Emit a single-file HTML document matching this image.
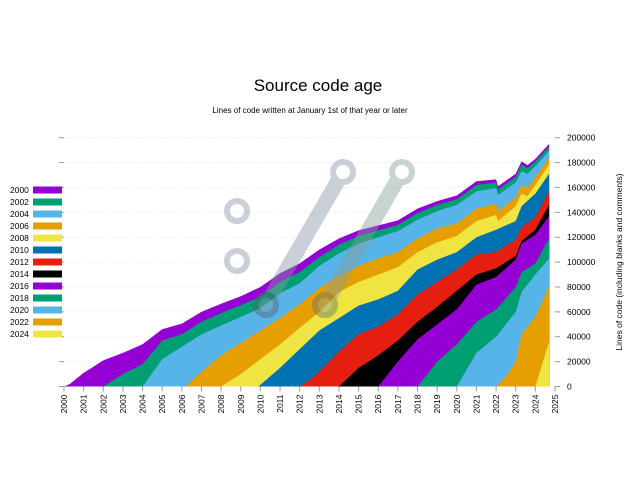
<!DOCTYPE html>
<html><head><meta charset="utf-8"><style>
html,body{margin:0;padding:0;background:#fff;}
svg{display:block;font-family:"Liberation Sans",sans-serif;}
</style></head><body>
<svg id="chart" width="640" height="493" viewBox="0 0 640 493" xmlns="http://www.w3.org/2000/svg">
<text x="318" y="91" font-size="17" text-anchor="middle" fill="#000">Source code age</text>
<text x="310" y="113" font-size="8" text-anchor="middle" fill="#000">Lines of code written at January 1st of that year or later</text>
<g id="grid"></g>
<g id="bands"></g>
<g id="watermark" opacity="0.45">
<line x1="266" y1="305" x2="343" y2="172" stroke="#8899aa" stroke-width="15" stroke-linecap="round"/>
<line x1="325" y1="305" x2="402" y2="172" stroke="#88a099" stroke-width="15" stroke-linecap="round"/>
<circle cx="237" cy="211" r="10" fill="none" stroke="#8899aa" stroke-width="6"/>
<circle cx="237" cy="261" r="10" fill="none" stroke="#8899aa" stroke-width="6"/>
<circle cx="266" cy="305" r="10" fill="none" stroke="#556677" stroke-width="6"/>
<circle cx="325" cy="305" r="10" fill="none" stroke="#667766" stroke-width="6"/>
<circle cx="343" cy="172" r="10" fill="#fff" stroke="#8899aa" stroke-width="6"/>
<circle cx="402" cy="172" r="10" fill="#fff" stroke="#88a099" stroke-width="6"/>
</g>
<g id="axes"></g>
<g id="legend"></g>
<text transform="translate(622,262) rotate(-90)" font-size="8.5" text-anchor="middle" fill="#000">Lines of code (including blanks and comments)</text>
</svg>
<script>
const cohorts = ["2000","2002","2004","2006","2008","2010","2012","2014","2016","2018","2020","2022","2024"];
const colors = ["#9400d3","#009e73","#56b4e9","#e69f00","#f0e442","#0072b2","#e51e10","#000000","#9400d3","#009e73","#56b4e9","#e69f00","#f0e442"];
const c2000 = [[2000,0],[2000.3,2],[2001,11],[2002,21],[2003,27],[2004,34],[2005,46],[2006,50.5],[2007,60],[2008,66.5],[2009,72.5],[2010,80],[2011,91],[2012,99],[2013,110],[2014,119],[2015,125.5],[2016,129.5],[2017,133.5],[2018,143],[2019,149],[2020,153.5],[2021,165],[2022,166.5],[2022.1,161],[2023,171],[2023.3,181],[2023.6,178],[2024,183],[2024.7,195]];
const c2002 = [[2002,0],[2003,10],[2004,18],[2005,37],[2006,42],[2007,52],[2008,59],[2009,65.5],[2010,72],[2011,84],[2012,92],[2013,104],[2014,114],[2015,121],[2016,125.5],[2017,130],[2018,139.5],[2019,146],[2020,150.5],[2021,162],[2022,164],[2022.1,158.5],[2023,168.5],[2023.3,178.5],[2023.6,175.5],[2024,181],[2024.7,193]];
const c2004 = [[2004,0],[2005,22],[2006,32],[2007,42],[2008,49],[2009,56],[2010,63],[2011,75],[2012,83],[2013,97],[2014,107],[2015,115],[2016,120],[2017,125],[2018,134],[2019,141],[2020,146],[2021,157],[2022,159.5],[2022.1,154],[2023,164],[2023.3,173],[2023.6,171],[2024,177],[2024.7,189.5]];
const c2006 = [[2006.2,0],[2007,12],[2008,25],[2009,35],[2010,45],[2011,55],[2012,66],[2013,79],[2014,89],[2015,97],[2016,103],[2017,108],[2018,119],[2019,127],[2020,131],[2021,143],[2022,147],[2022.1,141],[2023,152],[2023.3,162],[2023.6,160],[2024,168],[2024.7,184]];
const c2008 = [[2008,0],[2009,10],[2010,22],[2011,34],[2012,47],[2013,60],[2014,76],[2015,84],[2016,90],[2017,96],[2018,108],[2019,116],[2020,121],[2021,133],[2022,138],[2022.1,133],[2023,145],[2023.3,155],[2023.6,153],[2024,162],[2024.7,178.5]];
const c2010 = [[2009.9,0],[2011,15],[2012,30],[2013,45],[2014,55],[2015,65],[2016,70],[2017,77],[2018,94],[2019,102],[2020,108],[2021,120],[2022,126],[2023,133],[2023.3,145],[2024,155],[2024.7,171]];
const c2012 = [[2012,0],[2012.6,6],[2013,12],[2014,28],[2015,42],[2016,48],[2017,58],[2018,74],[2019,84],[2020,94],[2021,106],[2022,108],[2023,118],[2023.3,128],[2024,136],[2024.7,157]];
const c2014 = [[2014,0],[2015,15],[2016,25],[2017,37],[2018,52],[2019,64],[2020,77],[2021,90],[2022,95],[2023,105],[2023.3,117],[2024,126],[2024.7,146]];
const c2016 = [[2016,0],[2017,20],[2018,38],[2019,50],[2020,62],[2021,82],[2022,88],[2023,102],[2023.3,115],[2024,122],[2024.7,137]];
const c2018 = [[2018,0],[2019,20],[2020,34],[2021,52],[2022,62],[2023,80],[2023.3,92],[2024,99],[2024.7,119]];
const c2020 = [[2020,0],[2021,27],[2022,40],[2023,60],[2023.3,76],[2024,90],[2024.7,103]];
const c2022 = [[2022,0],[2022.5,8],[2023,20],[2023.3,42],[2024,56],[2024.7,80.5]];
const c2024 = [[2024,0],[2024.7,36]];
const series = [c2000,c2002,c2004,c2006,c2008,c2010,c2012,c2014,c2016,c2018,c2020,c2022,c2024];
const xTicks = [2000,2001,2002,2003,2004,2005,2006,2007,2008,2009,2010,2011,2012,2013,2014,2015,2016,2017,2018,2019,2020,2021,2022,2023,2024,2025];
const yTicks = [0,20000,40000,60000,80000,100000,120000,140000,160000,180000,200000];

const NS="http://www.w3.org/2000/svg";
const X0=64,X1=555,Y0=386.5,Y1=137.7;
function xs(y){return X0+(y-2000)/25*(X1-X0);}
function ys(v){return Y0-v/200000*(Y0-Y1);}
function mk(tag,attrs,parent){const e=document.createElementNS(NS,tag);for(const k in attrs)e.setAttribute(k,attrs[k]);parent.appendChild(e);return e;}

const grid=document.getElementById('grid');
const axes=document.getElementById('axes');
yTicks.forEach(t=>{
  if(t>0){const g=mk('line',{x1:X0,x2:X1,y1:ys(t),y2:ys(t),stroke:'#e4e4e4','stroke-width':0.6,'stroke-dasharray':'1.5,1.5'},grid);
  
  }
  const lt=mk('line',{x1:X0-5,x2:X0,y1:ys(t),y2:ys(t),stroke:'#999','stroke-width':1},axes);
  
  
  const rt=mk('line',{x1:X1,x2:X1+5,y1:ys(t),y2:ys(t),stroke:'#999','stroke-width':1},axes);
  
  
  const tx=mk('text',{x:X1+12,y:ys(t)+3,'font-size':8.5,fill:'#000'},axes);
  tx.textContent=t;
  
  
});
mk('line',{x1:X1,x2:X1,y1:Y0,y2:Y0+1,stroke:'#999'},axes);
xTicks.forEach(t=>{
  const tk=mk('line',{x1:xs(t),x2:xs(t),y1:Y0,y2:Y0+5,stroke:'#999','stroke-width':1},axes);
  
  
  const tx=mk('text',{transform:`translate(${xs(t)+3},${Y0+8}) rotate(-90)`,'font-size':8.5,'text-anchor':'end',fill:'#000'},axes);
  tx.textContent=t;
  
  
});

const bands=document.getElementById('bands');
series.forEach((s,i)=>{
  let d='M'+xs(s[0][0])+','+Y0;
  s.forEach(p=>{d+=' L'+xs(p[0]).toFixed(2)+','+ys(p[1]*1000).toFixed(2);});
  d+=' L'+xs(s[s.length-1][0]).toFixed(2)+','+Y0+' Z';
  const p=mk('path',{d:d,fill:colors[i]},bands);
  
  
});

const legend=document.getElementById('legend');
cohorts.forEach((c,i)=>{
  const y=190+i*12;
  const t=mk('text',{x:10,y:y+3,'font-size':8.5,fill:'#000'},legend);
  t.textContent=c;
  
  
  const r=mk('rect',{x:33,y:y-3.5,width:29,height:7,fill:colors[i]},legend);
  
  
});
</script>
</body></html>
